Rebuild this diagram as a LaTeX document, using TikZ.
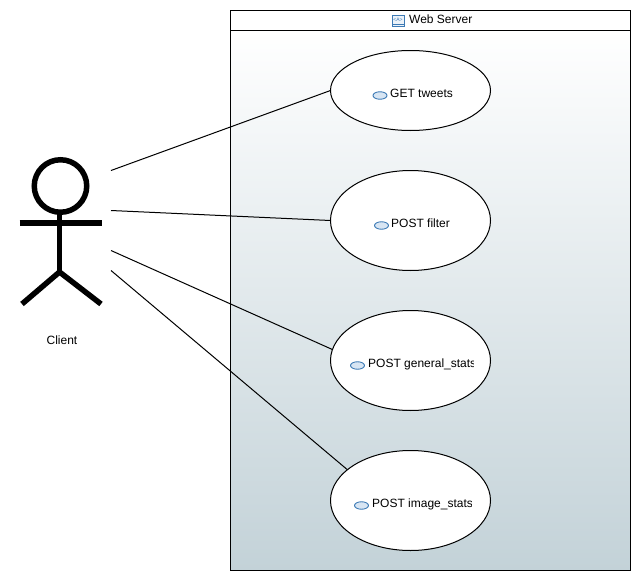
\documentclass[tikz,border=0pt]{standalone}
\usepackage{fontspec}
\setmainfont{Liberation Sans}
\usetikzlibrary{shapes.geometric}
\definecolor{icoB}{HTML}{3D7AB5}
\definecolor{icoF}{HTML}{D7E5F3}
\definecolor{laneB}{HTML}{C3D2D8}
\tikzset{
  usecase/.style={ellipse,draw=black,fill=white,line width=1pt,minimum width=160pt,minimum height=80pt,inner sep=0pt,outer sep=0pt},
  uselabel/.style={anchor=base west,inner sep=0pt,font=\fontsize{12}{14}\selectfont,text=black},
  usemark/.style={ellipse,draw=icoB,fill=icoF,line width=0.9pt,minimum width=14pt,minimum height=7.5pt,inner sep=0pt},
  link/.style={draw=black,line width=1pt},
  limb/.style={draw=black,line width=5.5pt}
}
\begin{document}
\begin{tikzpicture}[x=1pt,y=-1pt]
\useasboundingbox (0,0) rectangle (641,581);
% swimlane
\shade[top color=white,bottom color=laneB] (230.5,30.5) rectangle (630.5,570.5);
\node[draw=black,line width=1pt,minimum width=400pt,minimum height=560pt,inner sep=0pt,outer sep=0pt] (lane) at (430.5,290.5) {};
\coordinate (hl) at (230.5,30.5);
\coordinate (hr) at (630.5,30.5);
\draw[line width=1pt] (hl) -- (hr);
\node[rectangle,draw=icoB,fill=icoF!50,line width=0.9pt,minimum width=12pt,minimum height=11pt,inner sep=0pt] (webicon) at (398,20.5) {};
\coordinate (wil) at (392,24.5);
\coordinate (wir) at (404,24.5);
\draw[icoB,line width=0.8pt] (wil) -- (wir);
\node[inner sep=0pt,font=\fontsize{5}{5}\selectfont,text=icoB] (webglyph) at (398,19.5) {<A>};
\node[uselabel] (weblabel) at (409,23) {Web Server};
% use cases
\node[usecase] (e1) at (410.5,90.5) {};
\node[usecase,minimum height=100pt] (e2) at (410.5,220.5) {};
\node[usecase,minimum height=100pt] (e3) at (410.5,360.5) {};
\node[usecase,minimum height=100pt] (e4) at (410.5,500.5) {};
\node[usemark] (m1) at (380,95.5) {};
\node[uselabel] (t1) at (390,97) {GET tweets};
\node[usemark] (m2) at (381.5,225.5) {};
\node[uselabel] (t2) at (391,227) {POST filter};
\node[usemark] (m3) at (357.5,365.5) {};
\begin{scope}
\clip (360,350) rectangle (473.5,375);
\node[uselabel] (t3) at (368,367) {POST general\_stats};
\end{scope}
\node[usemark] (m4) at (361.5,505.5) {};
\begin{scope}
\clip (365,490) rectangle (471,515);
\node[uselabel] (t4) at (372,507) {POST image\_stats};
\end{scope}
% actor
\coordinate (neck) at (59.5,212);
\coordinate (hip) at (59.5,272);
\coordinate (armL) at (19.5,223);
\coordinate (armR) at (102,223);
\coordinate (footL) at (22,304);
\coordinate (footR) at (101,304);
\node[circle,draw=black,line width=5.5pt,minimum size=52.5pt,inner sep=0pt] (head) at (60.5,186) {};
\draw[limb] (neck) -- (hip);
\draw[limb] (armL) -- (armR);
\draw[limb] (footL) -- (hip) -- (footR);
\node[inner sep=0pt,font=\fontsize{12}{14}\selectfont] (client) at (62,340) {Client};
% connectors
\coordinate (c1) at (111,170.5);
\coordinate (c2) at (111,210.5);
\coordinate (c3) at (111,250.5);
\coordinate (c4) at (111,270.5);
\draw[link] (c1) -- (e1.west);
\draw[link] (c2) -- (e2.west);
\draw[link] (c3) -- (e3.172.8);
\draw[link] (c4) -- (e4.154.5);
\end{tikzpicture}
\end{document}
